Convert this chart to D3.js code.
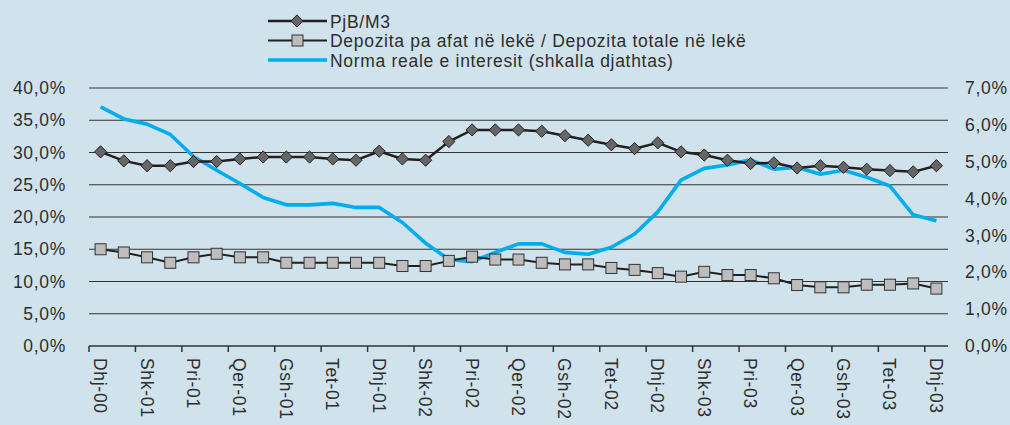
<!DOCTYPE html>
<html>
<head>
<meta charset="utf-8">
<script src="https://cdn.jsdelivr.net/npm/d3@7"></script>
<style>
  body { margin: 0; background: #d0e2eb; }
  svg { display: block; }
  text { font-family: "Liberation Sans", Arial, sans-serif; fill: #2e2e2e; letter-spacing: 0.7px; }
</style>
</head>
<body>
<div id="chart"></div>
<script>
const months = [
  "Dhj-00", "Jan-01", "Shk-01", "Mar-01", "Pri-01", "Maj-01", "Qer-01", "Kor-01", "Gsh-01", "Sht-01", "Tet-01", "Nën-01",
  "Dhj-01", "Jan-02", "Shk-02", "Mar-02", "Pri-02", "Maj-02", "Qer-02", "Kor-02", "Gsh-02", "Sht-02", "Tet-02", "Nën-02",
  "Dhj-02", "Jan-03", "Shk-03", "Mar-03", "Pri-03", "Maj-03", "Qer-03", "Kor-03", "Gsh-03", "Sht-03", "Tet-03", "Nën-03",
  "Dhj-03"
];

// PjB/M3 (%)
const pjbM3 = [
  30.1, 28.7, 27.95, 27.95, 28.6, 28.6, 29.0, 29.3, 29.3, 29.3, 29.0, 28.8,
  30.2, 29.0, 28.8, 31.7, 33.5, 33.5, 33.5, 33.3, 32.6, 31.9, 31.2, 30.6,
  31.5, 30.1, 29.6, 28.8, 28.3, 28.4, 27.6, 27.95, 27.7, 27.4, 27.2, 27.0,
  27.95
];

// Depozita pa afat / Depozita totale (%)
const depozita = [
  15.0, 14.5, 13.75, 12.9, 13.75, 14.3, 13.75, 13.75, 12.9, 12.9, 12.9, 12.9,
  12.9, 12.4, 12.4, 13.2, 13.85, 13.4, 13.4, 12.9, 12.65, 12.65, 12.1, 11.8,
  11.3, 10.75, 11.5, 11.0, 11.0, 10.5, 9.45, 9.1, 9.1, 9.5, 9.5, 9.7,
  8.9
];

// Norma reale e interesit (%), right scale
const normaReale = [
  6.49, 6.16, 6.02, 5.74, 5.14, 4.77, 4.41, 4.03, 3.83, 3.83, 3.87, 3.76,
  3.76, 3.35, 2.79, 2.35, 2.29, 2.54, 2.77, 2.77, 2.54, 2.49, 2.68, 3.04,
  3.64, 4.50, 4.82, 4.91, 5.05, 4.80, 4.85, 4.66, 4.77, 4.58, 4.34, 3.56,
  3.40
];

const leftTicks = [0, 5, 10, 15, 20, 25, 30, 35, 40];
const rightTicks = [0, 1, 2, 3, 4, 5, 6, 7];
const legendLabels = ["PjB/M3", "Depozita pa afat në lekë / Depozita totale në lekë", "Norma reale e interesit (shkalla djathtas)"];

const width = 1010, height = 425;
const plot = { left: 89, right: 948, top: 88, bottom: 346 };
const fontSize = 17.5;

const svg = d3.select("#chart").append("svg")
  .attr("width", width)
  .attr("height", height);

const x = d3.scaleBand().domain(months).range([plot.left, plot.right]);
const yL = d3.scaleLinear().domain([0, 40]).range([plot.bottom, plot.top]);
const yR = d3.scaleLinear().domain([0, 7]).range([plot.bottom, plot.top]);
const cx = d => x(d) + x.bandwidth() / 2;

const fmt = v => d3.format(".1f")(v).replace(".", ",") + "%";

// gridlines
svg.append("g")
  .selectAll("line")
  .data(leftTicks)
  .join("line")
  .attr("x1", plot.left).attr("x2", plot.right)
  .attr("y1", d => yL(d)).attr("y2", d => yL(d))
  .attr("stroke", "#333")
  .attr("stroke-width", d => d === 0 ? 1.6 : 1);

// left axis labels
svg.append("g")
  .attr("transform", `translate(66,0)`)
  .call(d3.axisLeft(yL).tickValues(leftTicks).tickFormat(fmt).tickSize(0).tickPadding(0))
  .call(g => g.select(".domain").remove())
  .call(g => g.selectAll("text").attr("font-size", fontSize).attr("fill", "#2e2e2e").attr("font-family", null));

// right axis labels
svg.append("g")
  .attr("transform", `translate(965,0)`)
  .call(d3.axisRight(yR).tickValues(rightTicks).tickFormat(fmt).tickSize(0).tickPadding(0))
  .call(g => g.select(".domain").remove())
  .call(g => g.selectAll("text").attr("font-size", fontSize).attr("fill", "#2e2e2e").attr("font-family", null));

// x tick marks at category boundaries, every second category
const labelled = months.filter((m, i) => i % 2 === 0);
svg.append("g")
  .selectAll("line")
  .data(labelled)
  .join("line")
  .attr("x1", d => x(d)).attr("x2", d => x(d))
  .attr("y1", plot.bottom).attr("y2", plot.bottom + 6)
  .attr("stroke", "#333")
  .attr("stroke-width", 1.5);

// x labels, rotated
svg.append("g")
  .selectAll("text")
  .data(labelled)
  .join("text")
  .attr("transform", d => `translate(${cx(d) - 6.5},${plot.bottom + 12}) rotate(90)`)
  .attr("font-size", fontSize)
  .attr("text-anchor", "start")
  .text(d => d);

// Norma reale line
svg.append("path")
  .datum(normaReale)
  .attr("fill", "none")
  .attr("stroke", "#00adee")
  .attr("stroke-width", 3.6)
  .attr("stroke-linejoin", "round")
  .attr("d", d3.line().x((d, i) => cx(months[i])).y(d => yR(d)));

// PjB/M3 line + diamonds
svg.append("path")
  .datum(pjbM3)
  .attr("fill", "none")
  .attr("stroke", "#231f20")
  .attr("stroke-width", 2.5)
  .attr("d", d3.line().x((d, i) => cx(months[i])).y(d => yL(d)));

const diamond = d3.symbol().type(d3.symbolDiamond2).size(95);
svg.append("g")
  .selectAll("path")
  .data(pjbM3)
  .join("path")
  .attr("transform", (d, i) => `translate(${cx(months[i])},${yL(d)})`)
  .attr("d", diamond)
  .attr("fill", "#666")
  .attr("stroke", "#231f20")
  .attr("stroke-width", 1);

// Depozita line + squares
svg.append("path")
  .datum(depozita)
  .attr("fill", "none")
  .attr("stroke", "#231f20")
  .attr("stroke-width", 2)
  .attr("d", d3.line().x((d, i) => cx(months[i])).y(d => yL(d)));

svg.append("g")
  .selectAll("rect")
  .data(depozita)
  .join("rect")
  .attr("x", (d, i) => cx(months[i]) - 5.5)
  .attr("y", d => yL(d) - 5.5)
  .attr("width", 11).attr("height", 11)
  .attr("fill", "#bdbdbd")
  .attr("stroke", "#333")
  .attr("stroke-width", 1);

// legend
const legend = svg.append("g");
legendLabels.forEach((label, i) => {
  const ly = 21 + i * 19.5;
  const g = legend.append("g").attr("transform", `translate(0,${ly})`);
  if (i === 2) {
    g.append("line").attr("x1", 268).attr("x2", 327).attr("y1", 0).attr("y2", 0)
      .attr("stroke", "#00adee").attr("stroke-width", 3.6);
  } else {
    g.append("line").attr("x1", 268).attr("x2", 327).attr("y1", 0).attr("y2", 0)
      .attr("stroke", "#231f20").attr("stroke-width", i === 0 ? 2.5 : 2);
    if (i === 0) {
      g.append("path").attr("transform", "translate(297,0)").attr("d", diamond)
        .attr("fill", "#666").attr("stroke", "#231f20");
    } else {
      g.append("rect").attr("x", 292).attr("y", -5.5).attr("width", 11).attr("height", 11)
        .attr("fill", "#bdbdbd").attr("stroke", "#333");
    }
  }
  g.append("text").attr("x", 330).attr("y", 6.5).attr("font-size", fontSize).text(label);
});
</script>
</body>
</html>
